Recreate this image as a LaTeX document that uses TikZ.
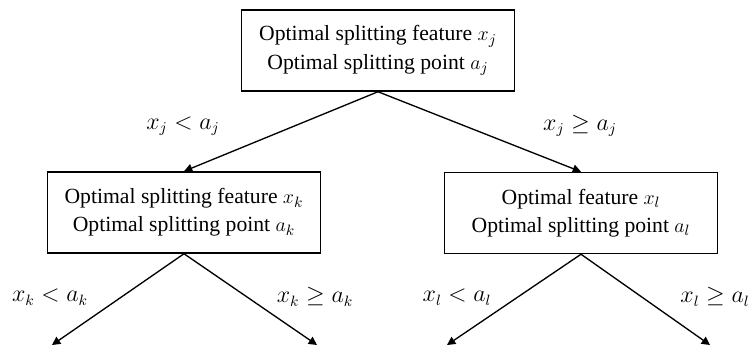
\documentclass[tikz,border=0pt]{standalone}
\usepackage{fontspec}
\setmainfont{Liberation Serif}
\usepackage{tikz}
\usetikzlibrary{arrows.meta}

\tikzset{
  splitbox/.style={draw, line width=0.9pt, align=center, inner sep=0pt,
    minimum width=164pt, minimum height=48.6pt,
    font=\fontsize{13}{17}\selectfont},
  rule/.style={font=\fontsize{13.5}{15}\selectfont},
  branch/.style={line width=0.8pt, -{Triangle[length=5pt,width=5pt]}}
}

\begin{document}
\begin{tikzpicture}[x=0.6pt,y=-0.6pt]
        \useasboundingbox (0,0) rectangle (750,347);
        \node[splitbox] (root) at (378,50.5) {Optimal splitting feature $x_j$\\Optimal splitting point $a_j$};
        \node[splitbox] (left) at (184,212.5) {Optimal splitting feature $x_k$\\Optimal splitting point $a_k$};
        \node[splitbox] (right) at (581,213) {Optimal feature $x_l$\\Optimal splitting point $a_l$};
        \coordinate (ll) at (52,345);
        \coordinate (lr) at (317,345);
        \coordinate (rl) at (447,345);
        \coordinate (rr) at (710,345);
        \draw[branch] (root.south) -- (left.north);
        \draw[branch] (root.south) -- (right.north);
        \draw[branch] (left.south) -- (ll);
        \draw[branch] (left.south) -- (lr);
        \draw[branch] (right.south) -- (rl);
        \draw[branch] (right.south) -- (rr);
        \node[rule] (rootlt) at (183,126) {$x_j < a_j$};
        \node[rule] (rootge) at (580,126) {$x_j \geq a_j$};
        \node[rule] (leftlt) at (50,297) {$x_k < a_k$};
        \node[rule] (leftge) at (315,297) {$x_k \geq a_k$};
        \node[rule] (rightlt) at (457,297) {$x_l < a_l$};
        \node[rule] (rightge) at (715,297) {$x_l \geq a_l$};
    \end{tikzpicture}
\end{document}
